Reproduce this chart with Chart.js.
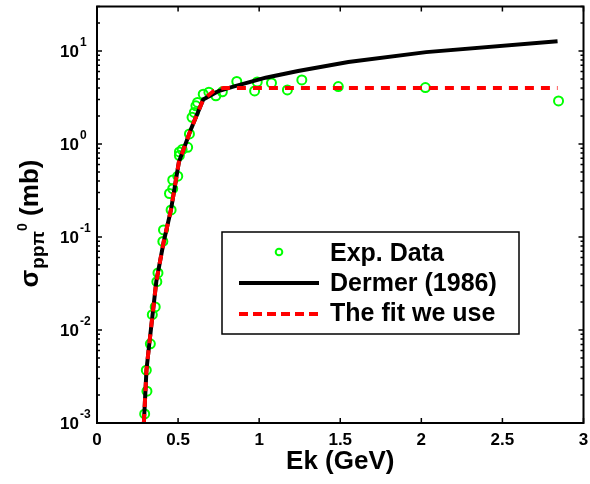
<!DOCTYPE html>
<html>
<head>
<meta charset="utf-8">
<script src="https://cdn.jsdelivr.net/npm/chart.js@4.4.1/dist/chart.umd.min.js"></script>
<style>
html, body { margin: 0; padding: 0; background: #fff; }
</style>
</head>
<body>
<canvas id="chart" width="590" height="484"></canvas>
<script>
"use strict";

// experimental points (GeV, mb)
const expEnergy = [0.294, 0.304, 0.308, 0.329, 0.341, 0.359, 0.369, 0.376, 0.406, 0.41,
    0.447, 0.457, 0.467, 0.467, 0.498, 0.508, 0.508, 0.525, 0.559, 0.57,
    0.586, 0.60, 0.61, 0.62, 0.655, 0.69, 0.733, 0.773, 0.862, 0.972,
    0.988, 1.076, 1.174, 1.263, 1.488, 2.025, 2.846];
const expSigma = [0.00125, 0.0037, 0.0022, 0.0071, 0.0146, 0.0177, 0.033, 0.041, 0.0895, 0.119,
    0.293, 0.195, 0.33, 0.41, 0.45, 0.75, 0.82, 0.87, 0.92, 1.28,
    1.93, 2.18, 2.57, 2.79, 3.42, 3.6, 3.29, 3.63, 4.7, 3.71,
    4.63, 4.52, 3.8, 4.87, 4.13, 4.03, 2.9];

const dermerEnergy = [0.289, 0.305, 0.32, 0.366, 0.412, 0.456, 0.505, 0.58, 0.655, 0.75,
    0.835, 1.04, 1.24, 1.55, 2.03, 2.84];
const dermerSigma = [0.001, 0.0037, 0.0065, 0.0335, 0.09, 0.195, 0.64, 1.45, 3.0, 3.7,
    4.1, 5.15, 6.07, 7.6, 9.7, 12.7];

const fitEnergy = [0.289, 0.305, 0.32, 0.366, 0.412, 0.456, 0.505, 0.58, 0.655, 0.72, 0.78, 2.84];
const fitSigma = [0.001, 0.0037, 0.0065, 0.0335, 0.09, 0.195, 0.64, 1.45, 3.0, 3.7, 4.0, 4.0];

const xTicks = [0, 0.5, 1, 1.5, 2, 2.5, 3];
const yDecades = [-3, -2, -1, 0, 1];

const kFont = "\"Liberation Sans\", Arial, Helvetica, sans-serif";

function toPoints(xs, ys) {
    return xs.map((x, i) => ({ x, y: ys[i] }));
}

// matlab style box, inward ticks, tex-like labels
const axesPlugin = {
    id: "matlabAxes",
    afterDraw(chart) {
        const ctx = chart.ctx;
        const { left, right, top, bottom } = chart.chartArea;
        const xs = chart.scales.x;
        const ys = chart.scales.y;

        ctx.save();
        ctx.strokeStyle = "#000";
        ctx.lineWidth = 2;
        ctx.strokeRect(left, top, right - left, bottom - top);

        ctx.lineWidth = 1.5;
        ctx.beginPath();
        for (const v of xTicks) {
            const px = xs.getPixelForValue(v);
            ctx.moveTo(px, bottom); ctx.lineTo(px, bottom - 5);
            ctx.moveTo(px, top); ctx.lineTo(px, top + 5);
        }
        for (const d of yDecades) {
            for (let m = 1; m < 10; m++) {
                const v = m * Math.pow(10, d);
                if (v > ys.max) break;
                const py = ys.getPixelForValue(v);
                const len = m === 1 ? 5 : 3;
                ctx.moveTo(left, py); ctx.lineTo(left + len, py);
                ctx.moveTo(right, py); ctx.lineTo(right - len, py);
            }
        }
        ctx.stroke();

        ctx.fillStyle = "#000";
        ctx.font = `bold 17px ${kFont}`;
        ctx.textAlign = "center";
        ctx.textBaseline = "alphabetic";
        for (const v of xTicks) {
            ctx.fillText(String(v), xs.getPixelForValue(v), 445);
        }

        for (const d of yDecades) {
            const py = ys.getPixelForValue(Math.pow(10, d));
            ctx.font = `bold 17px ${kFont}`;
            ctx.textAlign = "right";
            ctx.fillText("10", 79, py + 6);
            ctx.font = `bold 12px ${kFont}`;
            ctx.textAlign = "left";
            ctx.fillText(String(d), 80, py - 5);
        }

        ctx.font = `bold 26px ${kFont}`;
        ctx.textAlign = "center";
        ctx.fillText("Ek (GeV)", (left + right) / 2, 469);

        // y title: sigma_{pp pi^0} (mb), rotated
        const parts = [
            { t: "\u03C3", size: 26, dy: 0, gap: 1 },
            { t: "pp\u03C0", size: 19, dy: 6, gap: 0 },
            { t: "0", size: 14, dy: -11, gap: 0 },
            { t: " (mb)", size: 26, dy: 0, gap: 0 }
        ];
        let total = 0;
        for (const p of parts) {
            ctx.font = `bold ${p.size}px ${kFont}`;
            p.w = ctx.measureText(p.t).width + p.gap;
            total += p.w;
        }
        ctx.translate(38, 223.5 + total / 2);
        ctx.rotate(-Math.PI / 2);
        ctx.textAlign = "left";
        let cx = 0;
        for (const p of parts) {
            ctx.font = `bold ${p.size}px ${kFont}`;
            ctx.fillText(p.t, cx, p.dy);
            cx += p.w;
        }
        ctx.restore();
    }
};

const legendPlugin = {
    id: "boxLegend",
    afterDraw(chart) {
        const ctx = chart.ctx;
        const [fit, dermer, exp] = chart.data.datasets;
        ctx.save();
        ctx.fillStyle = "#fff";
        ctx.fillRect(222, 232, 297, 102);
        ctx.strokeStyle = "#000";
        ctx.lineWidth = 1.5;
        ctx.strokeRect(222, 232, 297, 102);

        ctx.strokeStyle = exp.borderColor;
        ctx.lineWidth = 2;
        ctx.beginPath();
        ctx.arc(279, 252, 3.3, 0, Math.PI * 2);
        ctx.stroke();

        ctx.strokeStyle = dermer.borderColor;
        ctx.lineWidth = dermer.borderWidth;
        ctx.beginPath();
        ctx.moveTo(239, 283); ctx.lineTo(319, 283);
        ctx.stroke();

        ctx.strokeStyle = fit.borderColor;
        ctx.lineWidth = fit.borderWidth;
        ctx.setLineDash([9, 5]);
        ctx.beginPath();
        ctx.moveTo(239, 314); ctx.lineTo(319, 314);
        ctx.stroke();
        ctx.setLineDash([]);

        ctx.fillStyle = "#000";
        ctx.font = `bold 25px ${kFont}`;
        ctx.textAlign = "left";
        ctx.textBaseline = "alphabetic";
        ctx.fillText(exp.label, 330, 261);
        ctx.fillText(dermer.label, 330, 291);
        ctx.fillText(fit.label, 330, 321);
        ctx.restore();
    }
};

new Chart(document.getElementById("chart").getContext("2d"), {
    type: "scatter",
    data: {
        datasets: [{
            label: "The fit we use",
            data: toPoints(fitEnergy, fitSigma),
            showLine: true,
            borderColor: "#ff0000",
            borderWidth: 4,
            borderDash: [9, 7],
            pointRadius: 0,
            tension: 0
        }, {
            label: "Dermer (1986)",
            data: toPoints(dermerEnergy, dermerSigma),
            showLine: true,
            borderColor: "#000000",
            borderWidth: 4,
            pointRadius: 0,
            tension: 0
        }, {
            label: "Exp. Data",
            data: toPoints(expEnergy, expSigma),
            showLine: false,
            pointStyle: "circle",
            pointRadius: 4.5,
            pointBorderWidth: 2,
            borderColor: "#00ff00",
            backgroundColor: "rgba(0,0,0,0)"
        }]
    },
    options: {
        responsive: false,
        animation: false,
        devicePixelRatio: 1,
        layout: { padding: { left: 97, right: 2, top: 3, bottom: 61 } },
        plugins: {
            legend: { display: false },
            tooltip: { enabled: false }
        },
        scales: {
            x: { type: "linear", min: 0, max: 3, display: false },
            y: { type: "logarithmic", min: 1e-3, max: 30, display: false }
        }
    },
    plugins: [axesPlugin, legendPlugin]
});
</script>
</body>
</html>
